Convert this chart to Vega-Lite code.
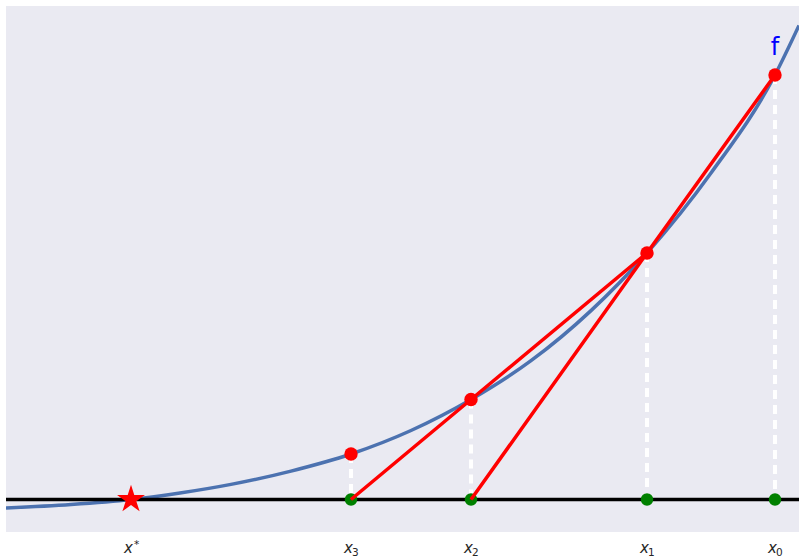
{
  "$schema": "https://vega.github.io/schema/vega-lite/v6.json",
  "width": 793,
  "height": 526,
  "autosize": {"type": "none"},
  "padding": {"left": 6, "top": 6, "right": 0, "bottom": 26},
  "background": "white",
  "config": {
    "view": {"fill": "#EAEAF2", "stroke": null},
    "axis": {"grid": false, "domain": false, "ticks": false}
  },
  "datasets": {
    "curve": [
      {"x": -1.25, "f": -0.085},
      {"x": -0.6, "f": -0.05},
      {"x": 0.0, "f": 0.0},
      {"x": 0.49, "f": 0.065},
      {"x": 1.0, "f": 0.151},
      {"x": 1.6, "f": 0.284},
      {"x": 2.2, "f": 0.455},
      {"x": 2.8, "f": 0.69},
      {"x": 3.4, "f": 1.0},
      {"x": 4.0, "f": 1.388},
      {"x": 4.6, "f": 1.889},
      {"x": 5.16, "f": 2.465},
      {"x": 5.8, "f": 3.265},
      {"x": 6.44, "f": 4.245},
      {"x": 6.68, "f": 4.74}
    ],
    "iterates": [
      {"name": "x0", "x": 6.44, "f": 4.245},
      {"name": "x1", "x": 5.16, "f": 2.465},
      {"name": "x2", "x": 3.4, "f": 1.0},
      {"name": "x3", "x": 2.2, "f": 0.455}
    ],
    "secants": [
      {"step": "first", "x": 6.44, "f": 4.245},
      {"step": "first", "x": 5.16, "f": 2.465},
      {"step": "first", "x": 3.4, "f": 0.0},
      {"step": "second", "x": 5.16, "f": 2.465},
      {"step": "second", "x": 3.4, "f": 1.0},
      {"step": "second", "x": 2.2, "f": 0.0}
    ],
    "solution": [{"x": 0.0, "f": 0.0}],
    "axisline": [{"x": -1.25, "f": 0.0}, {"x": 6.68, "f": 0.0}],
    "fname": [{"x": 6.44, "f": 4.445, "label": "f"}],
    "subscripts": [
      {"x": 2.2, "t": "3"},
      {"x": 3.4, "t": "2"},
      {"x": 5.16, "t": "1"},
      {"x": 6.44, "t": "0"}
    ],
    "superscripts": [{"x": 0.0, "t": "*"}]
  },
  "layer": [
    {
      "data": {"name": "curve"},
      "mark": {"type": "line", "color": "#4C72B0", "strokeWidth": 3.5, "interpolate": "monotone", "clip": true},
      "encoding": {
        "x": {
          "field": "x",
          "type": "quantitative",
          "scale": {"domain": [-1.25, 6.68], "nice": false, "zero": false},
          "axis": {
            "orient": "bottom",
            "title": null,
            "values": [0.0, 2.2, 3.4, 5.16, 6.44],
            "labelExpr": "'x'",
            "labelFont": "DejaVu Sans",
            "labelFontStyle": "italic",
            "labelFontSize": 15,
            "labelColor": "#262626",
            "labelPadding": 8,
            "labelOffset": -3
          }
        },
        "y": {
          "field": "f",
          "type": "quantitative",
          "scale": {"domain": [-0.325, 4.935], "nice": false, "zero": false},
          "axis": null
        }
      }
    },
    {
      "data": {"name": "axisline"},
      "mark": {"type": "line", "color": "black", "strokeWidth": 3.3},
      "encoding": {
        "x": {"field": "x", "type": "quantitative"},
        "y": {"field": "f", "type": "quantitative"}
      }
    },
    {
      "data": {"name": "iterates"},
      "mark": {"type": "rule", "color": "white", "strokeWidth": 4, "strokeDash": [9, 6]},
      "encoding": {
        "x": {"field": "x", "type": "quantitative"},
        "y": {"field": "f", "type": "quantitative"},
        "y2": {"datum": 0}
      }
    },
    {
      "data": {"name": "iterates"},
      "mark": {"type": "point", "filled": true, "opacity": 1, "color": "green", "size": 155},
      "encoding": {
        "x": {"field": "x", "type": "quantitative"},
        "y": {"datum": 0, "type": "quantitative"}
      }
    },
    {
      "data": {"name": "secants"},
      "mark": {"type": "line", "color": "red", "strokeWidth": 3.5},
      "encoding": {
        "x": {"field": "x", "type": "quantitative"},
        "y": {"field": "f", "type": "quantitative"},
        "detail": {"field": "step", "type": "nominal"}
      }
    },
    {
      "data": {"name": "iterates"},
      "mark": {"type": "point", "filled": true, "opacity": 1, "color": "red", "size": 180},
      "encoding": {
        "x": {"field": "x", "type": "quantitative"},
        "y": {"field": "f", "type": "quantitative"}
      }
    },
    {
      "data": {"name": "solution"},
      "mark": {
        "type": "point",
        "shape": "M0,-1L0.2245,-0.309L0.951,-0.309L0.363,0.118L0.588,0.809L0,0.382L-0.588,0.809L-0.363,0.118L-0.951,-0.309L-0.2245,-0.309Z",
        "filled": true,
        "opacity": 1,
        "color": "red",
        "size": 860
      },
      "encoding": {
        "x": {"field": "x", "type": "quantitative"},
        "y": {"field": "f", "type": "quantitative"}
      }
    },
    {
      "data": {"name": "fname"},
      "mark": {"type": "text", "color": "blue", "font": "DejaVu Sans", "fontSize": 24, "align": "center", "baseline": "alphabetic"},
      "encoding": {
        "x": {"field": "x", "type": "quantitative"},
        "y": {"field": "f", "type": "quantitative"},
        "text": {"field": "label", "type": "nominal"}
      }
    },
    {
      "data": {"name": "subscripts"},
      "mark": {"type": "text", "color": "#262626", "font": "DejaVu Sans", "fontSize": 10.5, "align": "left", "baseline": "alphabetic", "dx": 1, "dy": 24},
      "encoding": {
        "x": {"field": "x", "type": "quantitative"},
        "y": {"datum": -0.325, "type": "quantitative"},
        "text": {"field": "t", "type": "nominal"}
      }
    },
    {
      "data": {"name": "superscripts"},
      "mark": {"type": "text", "color": "#262626", "font": "DejaVu Sans", "fontSize": 10.5, "align": "left", "baseline": "alphabetic", "dx": 3, "dy": 16},
      "encoding": {
        "x": {"field": "x", "type": "quantitative"},
        "y": {"datum": -0.325, "type": "quantitative"},
        "text": {"field": "t", "type": "nominal"}
      }
    }
  ]
}
